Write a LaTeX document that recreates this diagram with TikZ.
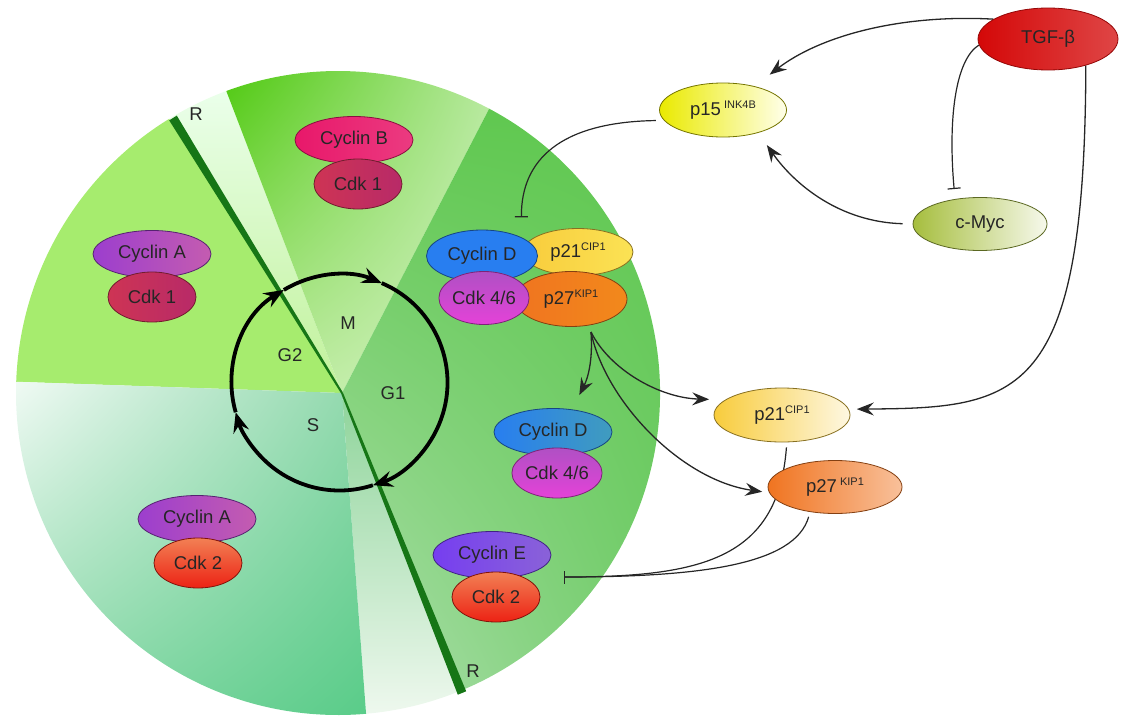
\documentclass[tikz,border=0pt]{standalone}
\usepackage{fontspec}
\setmainfont{Liberation Sans}
\usetikzlibrary{shapes.geometric,arrows.meta,calc,shadings}

\definecolor{rline}{RGB}{22,118,22}
\definecolor{g2green}{RGB}{166,236,110}
\definecolor{g1green}{RGB}{96,200,80}
\definecolor{mul}{RGB}{76,200,12}
\definecolor{mur}{RGB}{180,232,154}
\definecolor{mll}{RGB}{184,234,152}
\definecolor{mlr}{RGB}{212,242,196}
\definecolor{gll}{RGB}{176,224,176}
\definecolor{glr}{RGB}{108,202,100}
\definecolor{wtop}{RGB}{142,212,154}
\definecolor{wbot}{RGB}{238,248,238}
\definecolor{sul}{RGB}{240,250,244}
\definecolor{sur}{RGB}{144,216,172}
\definecolor{sll}{RGB}{138,216,168}
\definecolor{slr}{RGB}{88,204,136}
\definecolor{cycB}{RGB}{232,24,106}
\definecolor{cdkone}{RGB}{206,52,84}
\definecolor{cdkoneb}{RGB}{184,42,104}
\definecolor{cycA}{RGB}{156,62,206}
\definecolor{cycAb}{RGB}{196,92,176}
\definecolor{cdktwo}{RGB}{236,34,20}
\definecolor{cdktwot}{RGB}{242,128,84}
\definecolor{cycE}{RGB}{118,62,240}
\definecolor{cycEb}{RGB}{138,98,216}
\definecolor{cycD}{RGB}{40,126,240}
\definecolor{cycDb}{RGB}{64,156,190}
\definecolor{cdkfs}{RGB}{228,66,216}
\definecolor{cdkfst}{RGB}{176,80,196}
\definecolor{pcip}{RGB}{248,204,60}
\definecolor{pkip}{RGB}{240,116,32}
\definecolor{pink}{RGB}{234,234,0}
\definecolor{myc}{RGB}{166,190,62}
\definecolor{tgf}{RGB}{212,8,8}

\pgfdeclarelayer{background}
\pgfdeclarelayer{lines}
\pgfsetlayers{background,lines,main}

\newcommand{\upidx}[1]{\raisebox{7pt}{\fontsize{11}{12}\selectfont #1}}

\tikzset{
  prot/.style={ellipse, inner sep=0pt, line width=0.8pt, text=black!85,
    font=\fontsize{18.5}{20}\selectfont},
  cyclin/.style={prot, minimum width=118pt, minimum height=47pt},
  cdk/.style={prot, minimum width=88pt, minimum height=50pt},
  sig/.style={prot, minimum width=134pt, minimum height=53pt},
  act/.style={draw=black!85, line width=1.3pt,
    -{Stealth[length=17pt,width=13pt,inset=6pt]}},
  inh/.style={draw=black!85, line width=1.2pt,
    -{Bar[width=13pt,line width=1.2pt]}},
  cyc/.style={line width=3.8pt, -{Stealth[length=20pt,width=16pt,inset=7pt]}},
  phase/.style={font=\fontsize{18.5}{20}\selectfont, text=black!85},
}

\begin{document}
\begin{tikzpicture}[x=1pt,y=-1pt]
\useasboundingbox (0,0) rectangle (1128,718);

\begin{pgfonlayer}{background}
% pie of the cycle phases
\coordinate (C) at (338,393);
\coordinate (V) at (342,393);
\fill[g2green] (V) -- ($(C)+(-178:322)$) arc[start angle=-178,end angle=-121.6,radius=322] -- cycle;
\shade[top color=green!8!white, bottom color=g2green!70!white]
  (V) -- ($(C)+(-121.6:322)$) arc[start angle=-121.6,end angle=-110.3,radius=322] -- cycle;
\shade[upper left=mul, upper right=mur, lower left=mll, lower right=mlr]
  (V) -- ($(C)+(-110.3:322)$) arc[start angle=-110.3,end angle=-62,radius=322] -- cycle;
\shade[upper left=g1green, upper right=g1green, lower left=gll, lower right=glr]
  (V) -- ($(C)+(-62:322)$) arc[start angle=-62,end angle=68,radius=322] -- cycle;
\shade[top color=wtop, bottom color=wbot]
  (V) -- ($(C)+(68:322)$) arc[start angle=68,end angle=85,radius=322] -- cycle;
\shade[upper left=sul, upper right=sur, lower left=sll, lower right=slr]
  (V) -- ($(C)+(85:322)$) arc[start angle=85,end angle=182,radius=322] -- cycle;

% restriction points
\fill[rline] (176.8,115.6) -- (284.7,295.9) -- (342.85,392.48) -- (341.15,393.52)
  -- (281.3,298.0) -- (169.2,120.4) -- cycle;
\fill[rline] (342.93,392.63) -- (384.8,494.4) -- (466.2,691.3) -- (457.8,694.7)
  -- (381.0,495.8) -- (341.07,393.37) -- cycle;

% cycle
\coordinate (cc) at (339.5,382.5);
\draw[cyc] ($(cc)+(-121:108)$) arc[start angle=-121,end angle=-67,radius=108];
\draw[cyc] ($(cc)+(-67:108)$) arc[start angle=-67,end angle=72,radius=108];
\draw[cyc] ($(cc)+(72:108)$) arc[start angle=72,end angle=164,radius=108];
\draw[cyc] ($(cc)+(164:108)$) arc[start angle=164,end angle=239,radius=108];
\end{pgfonlayer}

\node[phase] (m) at (348,323) {M};
\node[phase] (g2) at (290,355) {G2};
\node[phase] (g1) at (393,393) {G1};
\node[phase] (s) at (313,425) {S};
\node[phase] (rtop) at (196,114) {R};
\node[phase] (rbot) at (473,671) {R};

% cyclin / cdk pairs
\node[cyclin, draw=cycB!60!black, left color=cycB, right color=cycB!85!white] (cycb) at (354,140) {Cyclin B};
\node[cdk, draw=cdkone!55!black, left color=cdkone, right color=cdkoneb] (cdkb) at (358,184) {Cdk 1};

\node[cyclin, draw=cycA!55!black, left color=cycA, right color=cycAb] (cyca) at (152,254) {Cyclin A};
\node[cdk, draw=cdkone!55!black, left color=cdkone, right color=cdkoneb] (cdka) at (152,297) {Cdk 1};

\node[cyclin, draw=cycA!55!black, left color=cycA, right color=cycAb] (cyca2) at (197,519) {Cyclin A};
\node[cdk, draw=cdktwo!55!black, top color=cdktwot, bottom color=cdktwo] (cdka2) at (198,563) {Cdk 2};

\node[cyclin, draw=cycE!55!black, left color=cycE, right color=cycEb] (cyce) at (492,555) {Cyclin E};
\node[cdk, draw=cdktwo!55!black, top color=cdktwot, bottom color=cdktwo] (cdke) at (496,597) {Cdk 2};

\node[cyclin, draw=cycD!55!black, left color=cycD, right color=cycDb] (cycd) at (553,432) {Cyclin D};
\node[cdk, draw=cdkfs!55!black, top color=cdkfst, bottom color=cdkfs] (cdkd) at (557,473) {Cdk 4/6};

% complex with the inhibitors
\node[prot, minimum width=110pt, minimum height=47pt, draw=pcip!55!black, left color=pcip, right color=pcip!70!yellow!80!white] (cxp21) at (578,252) {p21\upidx{CIP1}};
\node[prot, minimum width=111pt, minimum height=52pt, draw=cycD!55!black, fill=cycD] (cxcycd) at (482,256) {Cyclin D};
\node[prot, minimum width=112pt, minimum height=55pt, draw=pkip!55!black, left color=pkip, right color=pkip!85!yellow] (cxp27) at (571,299) {p27\upidx{KIP1}};
\node[prot, minimum width=82pt, minimum height=53pt, draw=cdkfs!55!black, top color=cdkfst, bottom color=cdkfs] (cxcdk) at (484,298) {Cdk 4/6};

% signalling
\node[sig, minimum width=140pt, minimum height=62pt, draw=tgf!70!black, left color=tgf, right color=tgf!75!white] (tgf) at (1048,39) {TGF-β};
\node[sig, minimum width=127pt, minimum height=54pt, draw=pink!50!black, left color=pink, right color=yellow!8!white] (p15) at (723,110) {p15\,\upidx{INK4B}};
\node[sig, draw=myc!55!black, left color=myc, right color=myc!10!white] (cmyc) at (980,224) {c-Myc};
\node[sig, minimum width=136pt, minimum height=54pt, draw=pcip!55!black, left color=pcip, right color=pcip!15!white] (p21r) at (782,415) {p21\upidx{CIP1}};
\node[sig, draw=pkip!55!black, left color=pkip, right color=pkip!45!white] (p27r) at (835,487) {p27\,\upidx{KIP1}};

\coordinate (split) at (591,332);
\coordinate (stopE) at (564,577);

\begin{pgfonlayer}{lines}
\draw[act, shorten >=19pt] (tgf.160) .. controls (900,14) and (820,36) .. (p15.37);
\draw[inh, shorten >=10pt] (tgf.185) .. controls (955,60) and (948,120) .. (cmyc.135);
\draw[act, shorten >=15pt, shorten <=10pt] (cmyc.west) .. controls (840,222) and (795,185) .. (p15.-33);
\draw[inh, shorten >=20pt, shorten <=8pt] (p15.190) .. controls (560,122) and (521,160) .. (cxcycd.north east);
\draw[act, shorten >=8pt] (tgf.-35) .. controls (1085,400) and (1020,408) .. (p21r.5);
\draw[act, shorten >=16pt] (split) .. controls (593,360) and (588,378) .. (cycd.50);
\draw[act, shorten >=16pt] (split) .. controls (610,370) and (660,398) .. (p21r.165);
\draw[act, shorten >=7pt] (split) .. controls (605,400) and (680,480) .. (p27r.185);
\draw[inh, shorten <=5pt] (p21r.-80) .. controls (778,560) and (700,577) .. (stopE);
\draw[inh, shorten <=5pt] (p27r.-135) .. controls (795,565) and (700,577) .. (stopE);
\end{pgfonlayer}
\end{tikzpicture}
\end{document}
